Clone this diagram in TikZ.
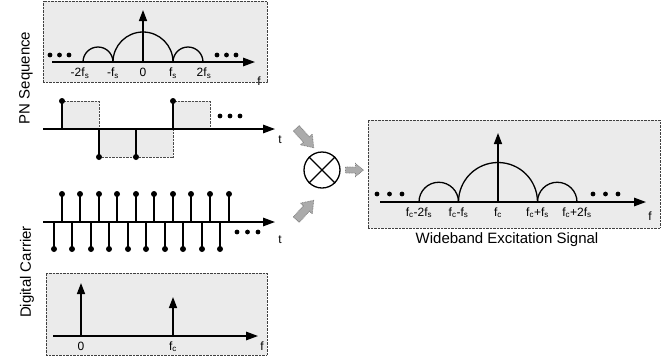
\documentclass[tikz,border=0pt]{standalone}
\usepackage{fontspec}
\setmainfont{Liberation Sans}
\usetikzlibrary{arrows.meta}

\tikzset{
  specbox/.style={draw=black!75, dash pattern=on 0.7pt off 0.7pt, line width=0.8pt,
    fill=black!8, inner sep=0pt, outer sep=0pt, anchor=north west},
  pulse/.style={fill=black!8, draw=black!70, dash pattern=on 0.7pt off 0.7pt, line width=0.8pt},
  axis/.style={line width=1.4pt, -{Triangle[length=12pt,width=8.5pt]}},
  spike/.style={line width=1.4pt, -{Triangle[length=11pt,width=8pt]}},
  lobe/.style={line width=1.3pt},
  stem/.style={line width=1.4pt},
  tick/.style={font=\fontsize{12}{14}\selectfont, anchor=base, inner sep=0pt},
  title/.style={font=\fontsize{15}{18}\selectfont, inner sep=0pt},
  garrow/.style={draw=black!50, fill=black!33, dash pattern=on 0.8pt off 0.8pt,
    line width=0.8pt, line join=miter},
  mixer/.style={circle, draw, line width=1.3pt, minimum size=36pt, inner sep=0pt},
}

\begin{document}
\begin{tikzpicture}[x=1pt, y=-1pt]
\useasboundingbox (0,0) rectangle (670,360);

% ---------- PN sequence spectrum ----------
\node[specbox, minimum width=224pt, minimum height=81pt] (pnspec) at (43,1) {};
\draw[lobe] (83,62) arc[start angle=180, end angle=0, radius=15pt];
\draw[lobe] (113,62) arc[start angle=180, end angle=0, radius=30pt];
\draw[lobe] (173,62) arc[start angle=180, end angle=0, radius=15pt];
\draw[axis] (52,62) -- (255,62);
\draw[spike] (143,62) -- (143,10);
\foreach \x in {50,59.5,69,217,226.5,236} \fill (\x,55) circle (2.4pt);
\node[tick] (t1) at (80,76.5) {-2f\textsubscript{s}};
\node[tick] (t2) at (113,76.5) {-f\textsubscript{s}};
\node[tick] (t3) at (143,76.5) {0};
\node[tick] (t4) at (173,76.5) {f\textsubscript{s}};
\node[tick] (t5) at (204,76.5) {2f\textsubscript{s}};
\node[tick] (f1) at (259,85) {f};

% ---------- PN sequence in time ----------
\draw[pulse] (62,101) rectangle (99,129);
\draw[pulse] (99,129) rectangle (136,157);
\draw[pulse] (136,129) rectangle (173,157);
\draw[pulse] (173,101) rectangle (210,129);
\draw[axis] (43,129) -- (275,129);
\foreach \x/\y in {62/101, 99/157, 136/157, 173/101} {
  \draw[stem] (\x,129) -- (\x,\y);
  \fill (\x,\y) circle (3pt);
}
\foreach \x in {220,230,240} \fill (\x,116) circle (2.4pt);
\node[tick] (tpn) at (280,143) {t};

% ---------- digital carrier in time ----------
\draw[axis] (43,222) -- (275,222);
\foreach \xu/\xd in {62/54, 80/72, 99/91, 117/109, 136/128,
                     154/146, 173/165, 191/183, 210/202, 229/220} {
  \draw[stem] (\xu,222) -- (\xu,194);
  \fill (\xu,194) circle (3pt);
  \draw[stem] (\xd,222) -- (\xd,249);
  \fill (\xd,249) circle (3pt);
}
\foreach \x in {237,247.5,258} \fill (\x,232) circle (2.4pt);
\node[tick] (tdc) at (280,243) {t};

% ---------- digital carrier spectrum ----------
\node[specbox, minimum width=221pt, minimum height=82pt] (dcspec) at (46,273) {};
\draw[axis] (53,336) -- (258,336);
\draw[spike] (81,336) -- (81,283);
\draw[spike] (173,336) -- (173,297);
\node[tick] (z0) at (81,350) {0};
\node[tick] (zc) at (173,350) {f\textsubscript{c}};
\node[tick] (f2) at (262,350) {f};

% ---------- side titles ----------
\node[title, rotate=90] (pnlabel) at (26,78) {PN Sequence};
\node[title, rotate=90] (dclabel) at (27,272) {Digital Carrier};

% ---------- mixer and block arrows ----------
\node[mixer] (mult) at (322,170) {};
\draw[line width=1.3pt] (mult.45) -- (mult.225) (mult.135) -- (mult.-45);
\begin{scope}[shift={(305,138)}, rotate=-48]
  \path[garrow] (-13,-4) -- (2,-4) -- (2,-8) -- (13,0) -- (2,8) -- (2,4) -- (-13,4) -- cycle;
\end{scope}
\begin{scope}[shift={(305,210)}, rotate=48]
  \path[garrow] (-13,-4) -- (2,-4) -- (2,-8) -- (13,0) -- (2,8) -- (2,4) -- (-13,4) -- cycle;
\end{scope}
\begin{scope}[shift={(354.5,170)}]
  \path[garrow] (-9,-3) -- (1,-3) -- (1,-6.5) -- (9,0) -- (1,6.5) -- (1,3) -- (-9,3) -- cycle;
\end{scope}

% ---------- wideband excitation spectrum ----------
\node[specbox, minimum width=292pt, minimum height=108pt] (wbspec) at (368,120) {};
\draw[lobe] (419,202) arc[start angle=180, end angle=0, radius=19.75pt];
\draw[lobe] (458.5,202) arc[start angle=180, end angle=0, radius=39.5pt];
\draw[lobe] (537.5,202) arc[start angle=180, end angle=0, radius=19.75pt];
\draw[axis] (380,202) -- (646,202);
\draw[spike] (498,202) -- (498,133);
\foreach \x in {377,389.5,402,593,605.5,618} \fill (\x,194) circle (2.4pt);
\node[tick] (w1) at (419,216) {f\textsubscript{c}-2f\textsubscript{s}};
\node[tick] (w2) at (458.5,216) {f\textsubscript{c}-f\textsubscript{s}};
\node[tick] (w3) at (498,216) {f\textsubscript{c}};
\node[tick] (w4) at (537.5,216) {f\textsubscript{c}+f\textsubscript{s}};
\node[tick] (w5) at (577,216) {f\textsubscript{c}+2f\textsubscript{s}};
\node[tick] (f3) at (650,220) {f};
\node[title] (wblabel) at (507,239.5) {Wideband Excitation Signal};
\end{tikzpicture}
\end{document}
